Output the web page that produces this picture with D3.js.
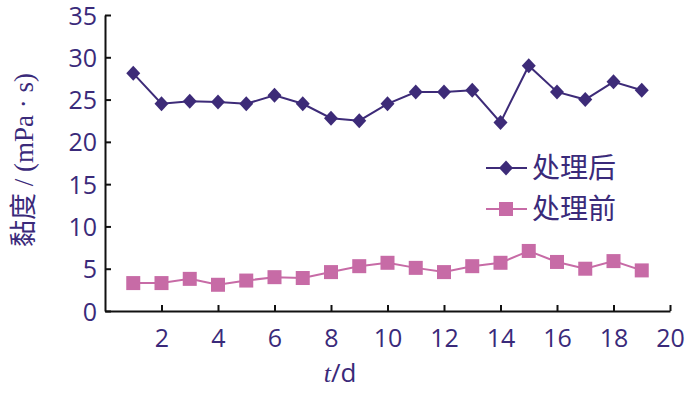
<!DOCTYPE html>
<html>
<head>
<meta charset="utf-8">
<script src="https://cdn.jsdelivr.net/npm/d3@7/dist/d3.min.js"></script>
<style>
  body { margin: 0; background: #fff; }
  svg { display: block; }
</style>
</head>
<body>
<div id="chart"></div>
<script>
// days
const days = [1, 2, 3, 4, 5, 6, 7, 8, 9, 10, 11, 12, 13, 14, 15, 16, 17, 18, 19];
// viscosity after treatment
const afterVals = [28.1, 24.5, 24.8, 24.7, 24.5, 25.5, 24.5, 22.8, 22.5, 24.5, 25.9, 25.9, 26.1, 22.3, 29.0, 25.9, 25.0, 27.1, 26.1];
// viscosity before treatment
const beforeVals = [3.3, 3.3, 3.8, 3.1, 3.6, 4.0, 3.9, 4.6, 5.3, 5.7, 5.1, 4.6, 5.3, 5.7, 7.1, 5.8, 5.0, 5.9, 4.8];
const xTicks = [2, 4, 6, 8, 10, 12, 14, 16, 18, 20];
const yTicks = [0, 5, 10, 15, 20, 25, 30, 35];
const seriesNames = ['处理后', '处理前'];

const textColor = '#3a2a7a';
const afterColor = '#3d2b78';
const beforeColor = '#c76ba6';

let width = 700, height = 394;
let margin = { left: 105, right: 30, top: 15, bottom: 83 };

let svg = d3.select('#chart').append('svg')
	.attr('width', width)
	.attr('height', height);

let x = d3.scaleLinear().domain([0, 20]).range([margin.left, 670]);
let y = d3.scaleLinear().domain([0, 35]).range([height - margin.bottom, margin.top]);

// axes (ticks point inward)
let xAxis = svg.append('g')
	.attr('transform', `translate(0, ${y(0)})`)
	.call(d3.axisBottom(x).tickValues(xTicks).tickSizeInner(-6).tickSizeOuter(0).tickPadding(18));
let yAxis = svg.append('g')
	.attr('transform', `translate(${x(0)}, 0)`)
	.call(d3.axisLeft(y).tickValues(yTicks).tickSizeInner(-6).tickSizeOuter(0).tickPadding(8));

[xAxis, yAxis].forEach(g => {
	g.select('.domain').attr('stroke', '#111').attr('stroke-width', 2);
	g.selectAll('.tick line').attr('stroke', '#111').attr('stroke-width', 2);
	g.selectAll('.tick text')
		.attr('fill', textColor)
		.style('font-family', '"Open Sans", "Noto Sans", sans-serif')
		.style('font-size', '25px');
});
yAxis.selectAll('.tick text').attr('dy', '0.36em');
xAxis.selectAll('.tick text').attr('dy', '0.71em');

// axis titles
let xt = svg.append('text')
	.attr('x', 340).attr('y', 382)
	.attr('text-anchor', 'middle')
	.attr('fill', textColor)
	.style('font-size', '26px');
xt.append('tspan').text('t').style('font-style', 'italic').style('font-family', '"Liberation Serif", serif');
xt.append('tspan').text('/d').style('font-family', '"Open Sans", sans-serif');

let yt = svg.append('text')
	.attr('transform', 'translate(33, 160) rotate(-90)')
	.attr('text-anchor', 'middle')
	.attr('fill', textColor)
	.style('font-size', '27px');
yt.append('tspan').text('黏度').style('font-family', '"Noto Sans CJK SC", sans-serif');
yt.append('tspan').text(' / (mPa · s)').style('font-family', '"Liberation Serif", serif');

let line = d3.line().x((d, i) => x(days[i])).y(d => y(d));

function diamond(g, cx, cy, color) {
	g.append('path')
		.attr('d', `M${cx},${cy - 7.5}L${cx + 7},${cy}L${cx},${cy + 7.5}L${cx - 7},${cy}Z`)
		.attr('fill', color);
}
function square(g, cx, cy, color) {
	g.append('rect')
		.attr('x', cx - 7).attr('y', cy - 7)
		.attr('width', 14).attr('height', 14)
		.attr('fill', color);
}

// series after
svg.append('path').datum(afterVals)
	.attr('d', line).attr('fill', 'none')
	.attr('stroke', afterColor).attr('stroke-width', 2);
let ga = svg.append('g');
afterVals.forEach((d, i) => diamond(ga, x(days[i]), y(d), afterColor));

// series before
svg.append('path').datum(beforeVals)
	.attr('d', line).attr('fill', 'none')
	.attr('stroke', beforeColor).attr('stroke-width', 2);
let gb = svg.append('g');
beforeVals.forEach((d, i) => square(gb, x(days[i]), y(d), beforeColor));

// legend
let legend = svg.append('g');
[[afterColor, diamond], [beforeColor, square]].forEach(([c, mark], i) => {
	let ly = 168 + i * 41;
	legend.append('line').attr('x1', 486).attr('x2', 527).attr('y1', ly).attr('y2', ly)
		.attr('stroke', c).attr('stroke-width', 2);
	mark(legend, 506, ly, c);
	legend.append('text').text(seriesNames[i])
		.attr('x', 532).attr('y', ly + 10)
		.attr('fill', textColor)
		.style('font-family', '"Noto Sans CJK SC", sans-serif')
		.style('font-size', '28px');
});
</script>
</body>
</html>
